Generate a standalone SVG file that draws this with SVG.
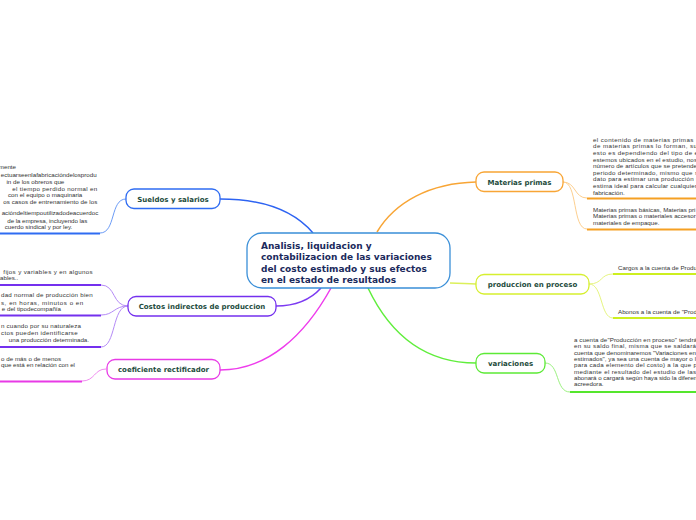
<svg xmlns="http://www.w3.org/2000/svg" width="696" height="520" viewBox="0 0 696 520">
<style>
.node{fill:#fff;stroke-width:1.3}
.lbl{font-family:"DejaVu Sans",Verdana,sans-serif;font-weight:bold;font-size:7px;fill:#1d4b3c;text-anchor:middle}
.central{font-family:"DejaVu Sans",Verdana,sans-serif;font-weight:bold;font-size:9px;fill:#1b2a5c}
.t{font-family:"Liberation Sans",Arial,sans-serif;font-size:6.2px;fill:#333}
.e{text-anchor:end}
.c{fill:none;stroke-width:1.5}
.s{fill:none;stroke-width:1}
.u{fill:none;stroke-width:2}
</style>
<rect width="696" height="520" fill="#fff"/>
<g id="connectors">
<path class="c" stroke="#2d63f2" d="M220,199 C265,199 295,212 313,233"/>
<path class="c" stroke="#7c3af2" d="M276,306 C298,306 312,298 321,288"/>
<path class="c" stroke="#ee3cec" d="M220,370 C268,370 305,335 331,288"/>
<path class="c" stroke="#f8a535" d="M476,182 C430,183 395,202 377,232"/>
<path class="c" stroke="#dcf05a" d="M450,283 C462,283 466,284 476,284"/>
<path class="c" stroke="#60ee3c" d="M368,288 C388,330 420,363 476,363"/>
<path class="s" stroke="#6c9cf6" d="M126,199 C110,199 116,233 100,233"/>
<path class="s" stroke="#b48af6" d="M128,306 C112,306 116,285 101,285 M128,306 C114,306 114,315 101,315 M128,306 C112,306 116,347 101,347"/>
<path class="s" stroke="#f08cf0" d="M106,369 C94,369 95,381 82,381"/>
<path class="s" stroke="#fdcf8f" d="M563,182 C576,182 574,198 587,198 M563,182 C578,182 572,229 587,229"/>
<path class="s" stroke="#e6f57f" d="M589,284 C603,284 600,274 613,274 M589,284 C603,284 600,318 613,318"/>
<path class="s" stroke="#9bf17f" d="M545,363 C560,363 555,392 570,392"/>
</g>
<g id="central">
<rect class="node" x="247" y="233" width="203" height="55" rx="15" stroke="#3a8fd8"/>
<text class="central" x="261" y="249">Analisis, liquidacion y</text>
<text class="central" x="261" y="260.3">contabilizacion de las variaciones</text>
<text class="central" x="261" y="271.6">del costo estimado y sus efectos</text>
<text class="central" x="261" y="282.9">en el estado de resultados</text>
</g>
<g id="sueldos">
<rect class="node" x="126" y="189" width="94" height="19.5" rx="8" stroke="#2f6cf2"/>
<text class="lbl" x="173" y="201.5">Sueldos y salarios</text>
</g>
<g id="costos">
<rect class="node" x="128" y="296.5" width="148" height="19.5" rx="8" stroke="#7430ee"/>
<text class="lbl" x="202" y="309">Costos indirectos de produccion</text>
</g>
<g id="coeficiente">
<rect class="node" x="107" y="359.5" width="113" height="19.5" rx="8" stroke="#e83ae6"/>
<text class="lbl" x="163.5" y="372">coeficiente rectificador</text>
</g>
<g id="materias">
<rect class="node" x="476" y="172" width="87" height="19.5" rx="8" stroke="#f8a535"/>
<text class="lbl" x="519.5" y="184.5">Materias primas</text>
</g>
<g id="produccion">
<rect class="node" x="476" y="274.5" width="113" height="19.5" rx="8" stroke="#d6ef2f"/>
<text class="lbl" x="532.5" y="287">produccion en proceso</text>
</g>
<g id="variaciones">
<rect class="node" x="476" y="353.5" width="69" height="19.5" rx="8" stroke="#5cea36"/>
<text class="lbl" x="510.5" y="366">variaciones</text>
</g>
<g id="sueldos-detalle">
<text class="t e" x="16" y="169.3">mente</text>
<text class="t e" x="96.7" y="177">ectuarseenlafabricacióndelosprodu</text>
<text class="t e" x="64.3" y="183.7">in de los obreros que</text>
<text class="t e" x="97.3" y="190.7" textLength="85" lengthAdjust="spacing">el tiempo perdido normal en</text>
<text class="t e" x="82.3" y="196.7">con el equipo o maquinaria</text>
<text class="t e" x="97.3" y="203.7" textLength="94" lengthAdjust="spacing">os casos de entrenamiento de los</text>
<text class="t e" x="98.3" y="215.3">acióndeltiempoutilizadodeacuerdoc</text>
<text class="t e" x="87.3" y="223" textLength="80" lengthAdjust="spacing">de la empresa, incluyendo las</text>
<text class="t e" x="72.3" y="229.3">cuerdo sindical y por ley.</text>
<path class="u" stroke="#2f6cf2" d="M0,233.5 H100"/>
</g>
<g id="costos-detalle-1">
<text class="t e" x="92.7" y="274.3" textLength="89.4" lengthAdjust="spacing">fijos y variables y en algunos</text>
<text class="t e" x="18.3" y="280.3">iables..</text>
<path class="u" stroke="#7430ee" d="M0,285 H101"/>
</g>
<g id="costos-detalle-2">
<text class="t e" x="92.7" y="297" textLength="91.7" lengthAdjust="spacing">dad normal de producción bien</text>
<text class="t e" x="83.3" y="304.7" textLength="82.3" lengthAdjust="spacing">s, en horas, minutos o en</text>
<text class="t e" x="61" y="311">e del tipodecompañía</text>
<path class="u" stroke="#7430ee" d="M0,315.5 H101"/>
</g>
<g id="costos-detalle-3">
<text class="t e" x="81" y="328" textLength="80" lengthAdjust="spacing">n cuando por su naturaleza</text>
<text class="t e" x="77.7" y="335.3" textLength="76.7" lengthAdjust="spacing">ctos pueden identificarse</text>
<text class="t e" x="89" y="342">una producción determinada.</text>
<path class="u" stroke="#7430ee" d="M0,347 H101"/>
</g>
<g id="coeficiente-detalle">
<text class="t e" x="61" y="361.3" textLength="60" lengthAdjust="spacing">o de más o de menos</text>
<text class="t e" x="75" y="367">que está en relación con el</text>
<path class="u" stroke="#e83ae6" d="M0,381.5 H82"/>
</g>
<g id="materias-detalle-1">
<text class="t" x="593" y="141.8" textLength="105" lengthAdjust="spacing">el contenido de materias primas ·</text>
<text class="t" x="593" y="148.4" textLength="104" lengthAdjust="spacing">de materias primas lo forman, su</text>
<text class="t" x="593" y="155" textLength="105" lengthAdjust="spacing">esto es dependiendo del tipo de e</text>
<text class="t" x="593" y="161.6" textLength="104" lengthAdjust="spacing">estemos ubicados en el estudio, nos</text>
<text class="t" x="593" y="168.2" textLength="104" lengthAdjust="spacing">número de artículos que se pretende</text>
<text class="t" x="593" y="174.8" textLength="105" lengthAdjust="spacing">periodo determinado, mismo que s</text>
<text class="t" x="593" y="181.4" textLength="105" lengthAdjust="spacing">dato para estimar una producción r</text>
<text class="t" x="593" y="188" textLength="104" lengthAdjust="spacing">estima ideal para calcular cualquier</text>
<text class="t" x="593" y="194.5">fabricación.</text>
<path class="u" stroke="#f5a023" d="M587,198.5 H696"/>
</g>
<g id="materias-detalle-2">
<text class="t" x="593" y="212">Materias primas básicas, Materias pri</text>
<text class="t" x="593" y="218.3">Materias primas o materiales accesor</text>
<text class="t" x="593" y="224.7">materiales de empaque.</text>
<path class="u" stroke="#f5a023" d="M587,229.5 H696"/>
</g>
<g id="produccion-detalle-1">
<text class="t" x="618" y="269.7" textLength="79" lengthAdjust="spacing">Cargos a la cuenta de Produ</text>
<path class="u" stroke="#cdef1f" d="M613,274 H696"/>
</g>
<g id="produccion-detalle-2">
<text class="t" x="618" y="313.7" textLength="79" lengthAdjust="spacing">Abonos a la cuenta de "Prod</text>
<path class="u" stroke="#cdef1f" d="M613,318 H696"/>
</g>
<g id="variaciones-detalle">
<text class="t" x="574" y="342" textLength="123" lengthAdjust="spacing">a cuenta de"Producción en proceso" tendrá</text>
<text class="t" x="574" y="348.3" textLength="122" lengthAdjust="spacing">en su saldo final, misma que se saldará</text>
<text class="t" x="574" y="354.6" textLength="122" lengthAdjust="spacing">cuenta que denominaremos "Variaciones en</text>
<text class="t" x="574" y="360.9" textLength="122" lengthAdjust="spacing">estimados", ya sea una cuenta de mayor o l</text>
<text class="t" x="574" y="367.2" textLength="123" lengthAdjust="spacing">para cada elemento del costo) a la que p</text>
<text class="t" x="574" y="373.5" textLength="122" lengthAdjust="spacing">mediante el resultado del estudio de las</text>
<text class="t" x="574" y="379.8" textLength="123" lengthAdjust="spacing">abonará o cargará según haya sido la diferen</text>
<text class="t" x="574" y="386.1">acreedora.</text>
<path class="u" stroke="#55e62d" d="M570,392 H696"/>
</g>
</svg>
